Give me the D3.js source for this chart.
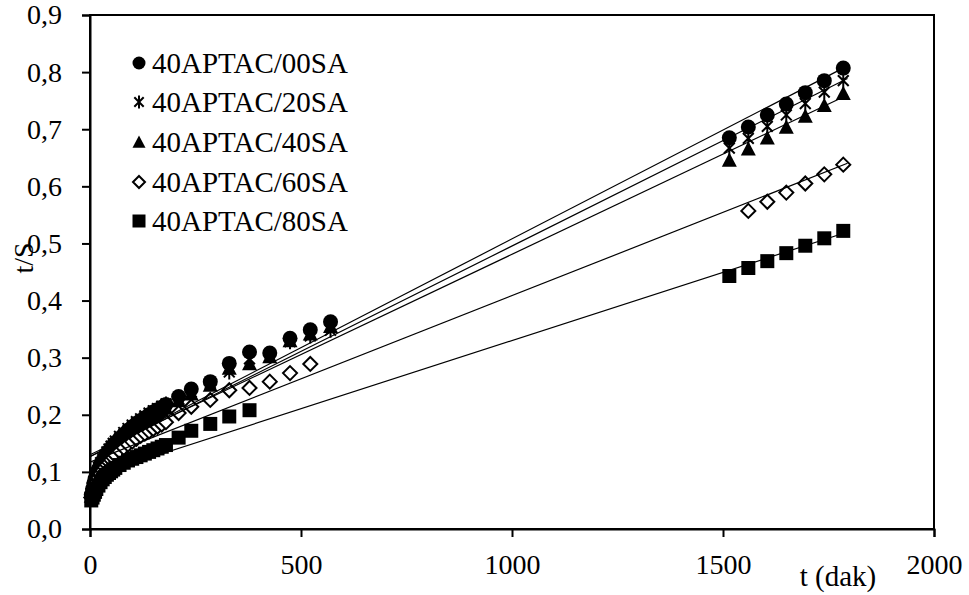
<!DOCTYPE html>
<html>
<head>
<meta charset="utf-8">
<script src="https://cdn.jsdelivr.net/npm/d3@7"></script>
<style>
  body { margin: 0; background: #fff; }
  svg { display: block; font-family: "Liberation Serif", "Times New Roman", serif; }
</style>
</head>
<body>
<div id="chart"></div>
<script>
// series labels
const seriesNames = ["40APTAC/00SA", "40APTAC/20SA", "40APTAC/40SA", "40APTAC/60SA", "40APTAC/80SA"];

// sampling times (dak)
const timesLong = [3, 6, 9, 12, 15, 20, 25, 30, 35, 40, 45, 50, 55, 60, 70, 80, 90, 100, 110, 120, 130, 140, 150, 160, 170, 180,
  210, 240, 285, 330, 378, 426, 474, 522, 570,
  1515, 1560, 1605, 1650, 1695, 1740, 1785];
const times60 = [3, 6, 9, 12, 15, 20, 25, 30, 35, 40, 45, 50, 55, 60, 70, 80, 90, 100, 110, 120, 130, 140, 150, 160, 170, 180,
  210, 240, 285, 330, 378, 426, 474, 522,
  1560, 1605, 1650, 1695, 1740, 1785];
const times80 = [3, 6, 9, 12, 15, 20, 25, 30, 35, 40, 45, 50, 55, 60, 70, 80, 90, 100, 110, 120, 130, 140, 150, 160, 170, 180,
  210, 240, 285, 330, 378,
  1515, 1560, 1605, 1650, 1695, 1740, 1785];

// t/S values
const v00 = [0.060, 0.070, 0.080, 0.088, 0.095, 0.105, 0.113, 0.120, 0.126, 0.132, 0.137, 0.142, 0.147, 0.151, 0.159, 0.166, 0.173, 0.179, 0.185, 0.190, 0.195, 0.200, 0.205, 0.209, 0.213, 0.218,
  0.232, 0.245, 0.258, 0.290, 0.310, 0.308, 0.334, 0.349, 0.363,
  0.685, 0.704, 0.725, 0.744, 0.764, 0.785, 0.807];
const v20 = [0.062, 0.073, 0.083, 0.091, 0.098, 0.108, 0.116, 0.123, 0.129, 0.135, 0.140, 0.145, 0.150, 0.154, 0.162, 0.169, 0.176, 0.182, 0.188, 0.193, 0.198, 0.203, 0.207, 0.211, 0.215, 0.219,
  0.228, 0.240, 0.255, 0.275, 0.298, 0.303, 0.328, 0.338, 0.348,
  0.667, 0.684, 0.705, 0.725, 0.745, 0.765, 0.785];
const v40 = [0.058, 0.067, 0.076, 0.084, 0.091, 0.100, 0.108, 0.115, 0.121, 0.127, 0.132, 0.137, 0.142, 0.146, 0.154, 0.161, 0.168, 0.174, 0.180, 0.185, 0.190, 0.195, 0.200, 0.204, 0.208, 0.212,
  0.225, 0.237, 0.252, 0.282, 0.290, 0.302, 0.330, 0.342, 0.355,
  0.646, 0.666, 0.685, 0.704, 0.723, 0.742, 0.763];
const v60 = [0.055, 0.063, 0.070, 0.076, 0.082, 0.090, 0.097, 0.103, 0.108, 0.113, 0.117, 0.121, 0.125, 0.129, 0.136, 0.142, 0.148, 0.153, 0.158, 0.163, 0.167, 0.171, 0.175, 0.179, 0.183, 0.187,
  0.203, 0.214, 0.226, 0.243, 0.247, 0.258, 0.273, 0.289,
  0.557, 0.573, 0.589, 0.605, 0.621, 0.638];
const v80 = [0.050, 0.055, 0.060, 0.065, 0.070, 0.076, 0.082, 0.087, 0.091, 0.095, 0.098, 0.101, 0.104, 0.107, 0.112, 0.116, 0.120, 0.123, 0.126, 0.129, 0.132, 0.135, 0.138, 0.141, 0.144, 0.147,
  0.160, 0.172, 0.184, 0.197, 0.208,
  0.443, 0.457, 0.469, 0.483, 0.496, 0.509, 0.522];

// linear fit lines (t/S = a + b*t)
const fitIntercept = [0.127, 0.1265, 0.130, 0.117, 0.091];
const fitSlope = [0.000381, 0.000369, 0.000351, 0.0002916, 0.000239];
const fitRange = [0, 1795];

const xTicks = [0, 500, 1000, 1500, 2000];
const yTicks = [0, 0.1, 0.2, 0.3, 0.4, 0.5, 0.6, 0.7, 0.8, 0.9];

const width = 969;
const height = 595;
const margin = { top: 15, right: 35, bottom: 66, left: 90 };
const fontFamily = "'Liberation Serif', 'Times New Roman', serif";

const series = [
  { name: seriesNames[0], t: timesLong, v: v00, shape: "circle" },
  { name: seriesNames[1], t: timesLong, v: v20, shape: "star" },
  { name: seriesNames[2], t: timesLong, v: v40, shape: "triangle" },
  { name: seriesNames[3], t: times60, v: v60, shape: "diamond" },
  { name: seriesNames[4], t: times80, v: v80, shape: "square" }
];

const svg = d3.select("#chart")
  .append("svg")
  .attr("width", width)
  .attr("height", height)
  .style("font-family", fontFamily);

const x = d3.scaleLinear()
  .domain([0, 2000])
  .range([margin.left, width - margin.right]);

const y = d3.scaleLinear()
  .domain([0, 0.9])
  .range([height - margin.bottom, margin.top]);

// marker paths, s = half size
function markerPath(shape, s) {
  if (shape === "circle") {
    return `M${-s},0A${s},${s} 0 1,0 ${s},0A${s},${s} 0 1,0 ${-s},0Z`;
  }
  if (shape === "triangle") {
    return `M0,${-s}L${s},${s * 0.9}L${-s},${s * 0.9}Z`;
  }
  if (shape === "square") {
    return `M${-s},${-s}H${s}V${s}H${-s}Z`;
  }
  if (shape === "diamond") {
    return `M0,${-s}L${s},0L0,${s}L${-s},0Z`;
  }
  // star: X plus vertical bar
  const d = s * 0.72;
  return `M${-d},${-d}L${d},${d}M${d},${-d}L${-d},${d}M0,${-s}V${s}`;
}

function styleMarker(sel, shape) {
  if (shape === "star") {
    sel.attr("fill", "none").attr("stroke", "#000").attr("stroke-width", 2);
  } else if (shape === "diamond") {
    sel.attr("fill", "#fff").attr("stroke", "#000").attr("stroke-width", 2);
  } else {
    sel.attr("fill", "#000").attr("stroke", "none");
  }
}

const markerSize = { circle: 7.5, star: 7.5, triangle: 7.5, diamond: 7, square: 7 };

// markers
series.forEach(s => {
  const pts = s.t.map((t, i) => ({ t: t, v: s.v[i] }));
  svg.append("g")
    .selectAll("path")
    .data(pts)
    .enter()
    .append("path")
    .attr("d", markerPath(s.shape, markerSize[s.shape]))
    .attr("transform", d => `translate(${x(d.t)},${y(d.v)})`)
    .call(styleMarker, s.shape);
});

// fit lines
const line = d3.line()
  .x(d => x(d[0]))
  .y(d => y(d[1]));

fitIntercept.forEach((a, i) => {
  const b = fitSlope[i];
  svg.append("path")
    .attr("d", line(fitRange.map(t => [t, a + b * t])))
    .attr("fill", "none")
    .attr("stroke", "#000")
    .attr("stroke-width", 1.2);
});

// frame
svg.append("rect")
  .attr("x", x(0))
  .attr("y", y(0.9))
  .attr("width", x(2000) - x(0))
  .attr("height", y(0) - y(0.9))
  .attr("fill", "none")
  .attr("stroke", "#000")
  .attr("stroke-width", 2);

// axes
const fmt = d3.format(".1f");
const yAxis = svg.append("g")
  .attr("transform", `translate(${x(0)},0)`)
  .call(d3.axisLeft(y).tickValues(yTicks).tickSize(8).tickPadding(20)
    .tickFormat(d => fmt(d).replace(".", ",")));

const xAxis = svg.append("g")
  .attr("transform", `translate(0,${y(0)})`)
  .call(d3.axisBottom(x).tickValues(xTicks).tickSize(8).tickPadding(17)
    .tickFormat(d3.format("d")));

[yAxis, xAxis].forEach(g => {
  g.attr("font-family", fontFamily).attr("font-size", 28);
  g.select(".domain").attr("stroke-width", 2);
  g.selectAll(".tick line").attr("stroke-width", 2);
  g.selectAll(".tick text").attr("fill", "#000");
});

// axis titles
svg.append("text")
  .attr("x", 838)
  .attr("y", 586)
  .attr("text-anchor", "middle")
  .style("font-size", "29px")
  .text("t (dak)");

svg.append("text")
  .attr("transform", "translate(33,258) rotate(-90)")
  .attr("text-anchor", "middle")
  .style("font-size", "28px")
  .text("t/S");

// legend
const legendY = [63, 102, 142, 182, 221];
const legend = svg.append("g");
series.forEach((s, i) => {
  const row = legend.append("g")
    .attr("transform", `translate(139,${legendY[i]})`);
  row.append("path")
    .attr("d", markerPath(s.shape, s.shape === "diamond" ? 6 : 6.5))
    .call(styleMarker, s.shape);
  row.append("text")
    .attr("x", 13)
    .attr("y", 10)
    .style("font-size", "29px")
    .text(s.name);
});
</script>
</body>
</html>
